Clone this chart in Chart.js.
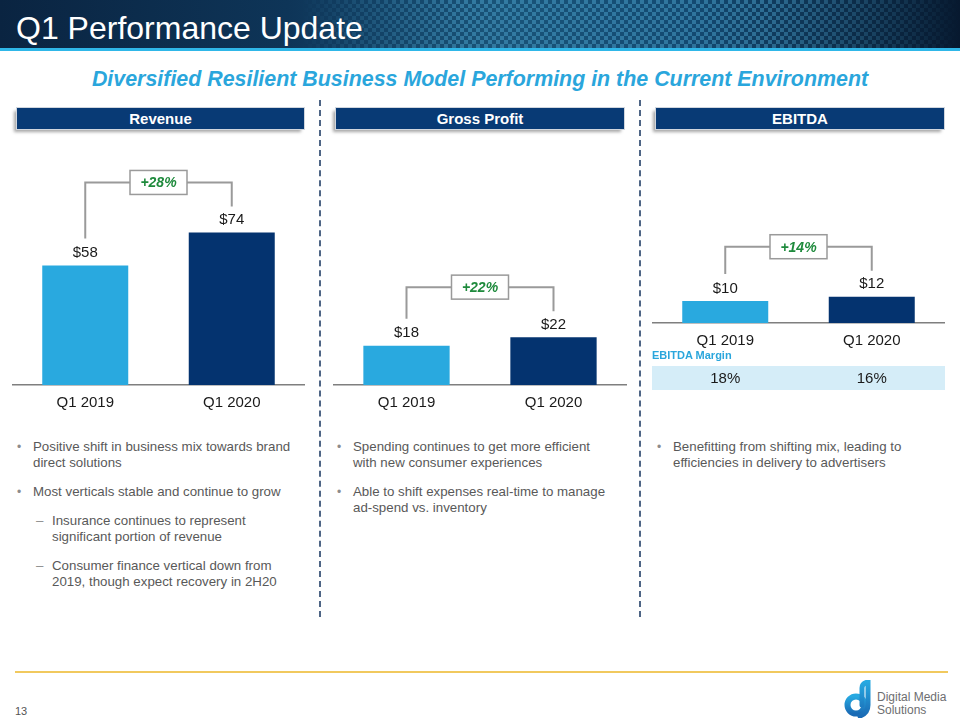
<!DOCTYPE html>
<html>
<head>
<meta charset="utf-8">
<script src="https://cdn.jsdelivr.net/npm/chart.js@4.4.1/dist/chart.umd.min.js"></script>
<style>
  body { margin: 0; width: 960px; height: 720px; position: relative; background: #fff; font-family: "Liberation Sans", Arial, sans-serif; overflow: hidden; }
  .header { position: absolute; left: 0; top: 0; width: 960px; height: 51px;
    background: linear-gradient(90deg, #0a2441 0%, #0e3558 30%, #195479 52%, #134a72 72%, #07192f 100%); overflow: hidden; }
  .header .pattern { position: absolute; left: 300px; top: 0; width: 660px; height: 51px; opacity: .4;
    background-image: linear-gradient(45deg, #5ab6e0 25%, transparent 25%, transparent 75%, #5ab6e0 75%),
                      linear-gradient(45deg, #5ab6e0 25%, transparent 25%, transparent 75%, #5ab6e0 75%);
    background-size: 8px 8px; background-position: 0 0, 4px 4px;
    -webkit-mask-image: linear-gradient(90deg, transparent 0%, #000 25%, #000 70%, transparent 100%); }
  .header .stripe { position: absolute; left: 0; bottom: 0; width: 960px; height: 3px; background: #2fb7e8; }
  .title { position: absolute; left: 16px; top: 8px; color: #fff; font-size: 32px; line-height: 40px; }
  .subtitle { position: absolute; left: 0; width: 960px; top: 67px; text-align: center; color: #2aa6dc;
    font-size: 21.4px; font-weight: bold; font-style: italic; }
  .sect { position: absolute; top: 108px; height: 21px; background: #083a75; color: #fff; font-weight: bold;
    font-size: 15px; line-height: 21px; text-align: center; box-shadow: -3px 3px 3px rgba(0,0,0,.35); outline: 1px solid #d0d6de; }
  .sep { position: absolute; top: 100px; height: 517px; width: 0; border-left: 2px dashed #4e6585; }
  canvas.c { position: absolute; }
  .bullets { position: absolute; top: 439px; color: #595959; font-size: 13.3px; line-height: 16px; }
  .bullets .b { position: relative; padding-left: 16px; margin-bottom: 13px; }
  .bullets .b::before { content: "\2022"; position: absolute; left: 0; top: 0; color: #8c8c8c; font-size: 12px; }
  .bullets .s { position: relative; padding-left: 35px; margin-bottom: 13px; }
  .bullets .s::before { content: "\2013"; position: absolute; left: 19px; top: 0; color: #8c8c8c; }
  .mlabel { position: absolute; left: 652px; top: 349px; font-size: 11px; font-weight: bold; color: #2aa6dc; }
  .mrow { position: absolute; left: 652px; top: 366px; width: 293px; height: 24px; background: #d5edf8; }
  .mrow span { position: absolute; top: 0; line-height: 24px; font-size: 15px; color: #1a1a1a; transform: translateX(-50%); }
  .footline { position: absolute; left: 15px; top: 671px; width: 933px; height: 1.5px; background: #f1c95e; }
  .pnum { position: absolute; left: 15px; top: 705px; font-size: 11px; color: #555; }
  .logo-t { position: absolute; left: 877px; top: 691px; font-size: 12px; line-height: 13px; color: #6d6e71; }
</style>
</head>
<body>
<div class="header"><div class="pattern"></div><div class="stripe"></div></div>
<div class="title">Q1 Performance Update</div>
<div class="subtitle">Diversified Resilient Business Model Performing in the Current Environment</div>

<div class="sect" style="left:17px;width:287px;">Revenue</div>
<div class="sect" style="left:336px;width:288px;">Gross Profit</div>
<div class="sect" style="left:656px;width:288px;">EBITDA</div>

<div class="sep" style="left:319px;"></div>
<div class="sep" style="left:639px;"></div>

<canvas class="c" id="revChart" style="left:12px;top:150px;" width="293" height="265"></canvas>
<canvas class="c" id="gpChart" style="left:333px;top:150px;" width="294" height="265"></canvas>
<canvas class="c" id="ebChart" style="left:652px;top:150px;" width="293" height="203"></canvas>

<div class="mlabel">EBITDA Margin</div>
<div class="mrow" id="marginRow"></div>

<div class="bullets" style="left:17px;width:285px;">
  <div class="b">Positive shift in business mix towards brand direct solutions</div>
  <div class="b">Most verticals stable and continue to grow</div>
  <div class="s">Insurance continues to represent significant portion of revenue</div>
  <div class="s">Consumer finance vertical down from 2019, though expect recovery in 2H20</div>
</div>
<div class="bullets" style="left:337px;width:275px;">
  <div class="b">Spending continues to get more efficient with new consumer experiences</div>
  <div class="b">Able to shift expenses real-time to manage ad-spend vs. inventory</div>
</div>
<div class="bullets" style="left:657px;width:285px;">
  <div class="b">Benefitting from shifting mix, leading to efficiencies in delivery to advertisers</div>
</div>

<div class="footline"></div>
<div class="pnum">13</div>
<svg style="position:absolute;left:843px;top:680px;" width="32" height="38" viewBox="0 0 32 38">
  <defs><linearGradient id="lg" x1="0" y1="0" x2="0" y2="1"><stop offset="0" stop-color="#27a9e1"/><stop offset="1" stop-color="#1a6bb5"/></linearGradient></defs>
  <circle cx="13" cy="25" r="8.5" fill="none" stroke="url(#lg)" stroke-width="6"/>
  <path d="M19 25 V8 Q19 3 25 2 V25 Q25 33 17 36" fill="none" stroke="url(#lg)" stroke-width="5" stroke-linecap="round"/>
</svg>
<div class="logo-t">Digital Media<br>Solutions</div>

<script>
// datos
const periods = ['Q1 2019', 'Q1 2020'];
const revenue = [58, 74];
const grossProfit = [18, 22];
const ebitda = [10, 12];
const ebitdaMargin = ['18%', '16%'];
const growth = ['+28%', '+22%', '+14%'];

const barColors = ['#29a9df', '#04336f'];

// etiquetas $ encima de cada barra y el corchete con el % de crecimiento
const labelsPlugin = {
  id: 'labelsPlugin',
  afterDatasetsDraw(chart, args, opts) {
    const ctx = chart.ctx;
    const bars = chart.getDatasetMeta(0).data;
    const vals = chart.data.datasets[0].data;
    ctx.save();
    ctx.font = '15px "Liberation Sans", Arial';
    ctx.fillStyle = '#1a1a1a';
    ctx.textAlign = 'center';
    ctx.textBaseline = 'bottom';
    bars.forEach((b, i) => ctx.fillText('$' + vals[i], b.x, b.y - 5));

    // corchete
    const b1 = bars[0], b2 = bars[1];
    const yTop = b2.y - 50;
    const midX = (b1.x + b2.x) / 2;
    const boxW = 57, boxH = 24;
    ctx.strokeStyle = '#9a9a9a';
    ctx.lineWidth = 2;
    ctx.beginPath();
    ctx.moveTo(b1.x, b1.y - 27);
    ctx.lineTo(b1.x, yTop);
    ctx.lineTo(midX - boxW / 2, yTop);
    ctx.moveTo(midX + boxW / 2, yTop);
    ctx.lineTo(b2.x, yTop);
    ctx.lineTo(b2.x, b2.y - 26);
    ctx.stroke();
    ctx.fillStyle = '#fff';
    ctx.fillRect(midX - boxW / 2, yTop - boxH / 2, boxW, boxH);
    ctx.lineWidth = 1.5;
    ctx.strokeRect(midX - boxW / 2, yTop - boxH / 2, boxW, boxH);
    ctx.fillStyle = '#1e8a3c';
    ctx.font = 'italic bold 14px "Liberation Sans", Arial';
    ctx.textBaseline = 'middle';
    ctx.fillText(opts.growth, midX, yTop + 1);
    ctx.restore();
  }
};

function makeChart(id, values, max, growthText) {
  return new Chart(document.getElementById(id), {
    type: 'bar',
    data: {
      labels: periods,
      datasets: [{
        data: values,
        backgroundColor: barColors,
        borderWidth: 0,
        categoryPercentage: 1,
        barPercentage: 0.587
      }]
    },
    options: {
      responsive: false,
      animation: false,
      layout: { padding: 0 },
      plugins: {
        legend: { display: false },
        tooltip: { enabled: false },
        labelsPlugin: { growth: growthText }
      },
      scales: {
        x: {
          grid: { display: false },
          border: { color: '#7f7f7f', width: 1.5 },
          ticks: { color: '#1a1a1a', font: { size: 15, family: '"Liberation Sans", Arial' }, padding: 1 },
          afterFit: (axis) => { axis.height = 30; }
        },
        y: { display: false, min: 0, max: max }
      }
    },
    plugins: [labelsPlugin]
  });
}

makeChart('revChart', revenue, 114, growth[0]);
makeChart('gpChart', grossProfit, 108, growth[1]);
const ebChart = makeChart('ebChart', ebitda, 79, growth[2]);

// fila de margen EBITDA alineada con las barras
const row = document.getElementById('marginRow');
ebChart.getDatasetMeta(0).data.forEach((b, i) => {
  const s = document.createElement('span');
  s.textContent = ebitdaMargin[i];
  s.style.left = b.x + 'px';
  row.appendChild(s);
});
</script>
</body>
</html>
